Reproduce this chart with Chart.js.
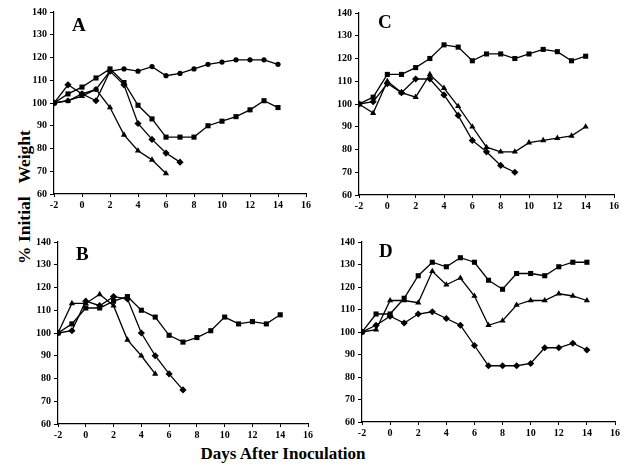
<!DOCTYPE html>
<html>
<head>
<meta charset="utf-8">
<script src="https://cdn.jsdelivr.net/npm/chart.js@4/dist/chart.umd.min.js"></script>
<style>
  html, body { margin: 0; padding: 0; background: #fff; }
  body { width: 627px; height: 467px; position: relative; overflow: hidden; }
  canvas { position: absolute; }
  .txt { position: absolute; font-family: 'Liberation Serif', 'Times New Roman', serif; font-weight: bold; color: #000; white-space: pre; line-height: 1; }
</style>
</head>
<body>
<div class="txt" id="ytitle" style="font-size:17.5px; width:220px; height:24px; line-height:24px; text-align:center; left:-86px; top:185px; transform:rotate(-90deg); transform-origin:center;">% Initial   Weight</div>
<div class="txt" style="font-size:17px; width:300px; text-align:center; left:133px; top:445px;">Days After Inoculation</div>
<script>
// ---- data ----
const days = [-2, -1, 0, 1, 2, 3, 4, 5, 6, 7, 8, 9, 10, 11, 12, 13, 14];
const xTicks = [-2, 0, 2, 4, 6, 8, 10, 12, 14, 16];
const yTicks = [60, 70, 80, 90, 100, 110, 120, 130, 140];
const panelLabels = ['A', 'B', 'C', 'D'];

// Panel A
const aSquare   = [100, 104, 107, 111, 115, 109, 99, 93, 85, 85, 85, 90, 92, 94, 97, 101, 98];
const aDiamond  = [100, 108, 104, 101, 114, 108, 91, 84, 78, 74];
const aTriangle = [100, 101, 103, 106, 98, 86, 79, 75, 69];
const aCircle   = [100, 101, 104, 106, 114, 115, 114, 116, 112, 113, 115, 117, 118, 119, 119, 119, 117];

// Panel B
const bSquare   = [100, 104, 111, 111, 114, 116, 110, 107, 99, 96, 98, 101, 107, 104, 105, 104, 108];
const bTriangle = [100, 113, 113, 117, 112, 97, 90, 82];
const bDiamond  = [100, 101, 114, 112, 116, 115, 100, 90, 82, 75];

// Panel C
const cSquare   = [100, 103, 113, 113, 116, 120, 126, 125, 119, 122, 122, 120, 122, 124, 123, 119, 121];
const cTriangle = [100, 96, 110, 105, 103, 113, 107, 99, 90, 81, 79, 79, 83, 84, 85, 86, 90];
const cDiamond  = [100, 101, 109, 105, 111, 111, 104, 95, 84, 79, 73, 70];

// Panel D
const dSquare   = [100, 108, 108, 115, 125, 131, 129, 133, 131, 123, 119, 126, 126, 125, 129, 131, 131];
const dTriangle = [100, 101, 114, 114, 113, 127, 121, 124, 116, 103, 105, 112, 114, 114, 117, 116, 114];
const dDiamond  = [100, 103, 107, 104, 108, 109, 106, 103, 94, 85, 85, 85, 86, 93, 93, 95, 92];

// ---- drawing ----
const FONT = "'Liberation Serif', 'Times New Roman', serif";
const YW = 44, XH = 24, PT = 10, PR = 14;

function pts(vals) { return vals.map((v, i) => ({ x: days[i], y: v })); }

const styles = {
  square:   { pointStyle: 'rect',     pointRadius: 3.6 },
  diamond:  { pointStyle: 'rectRot',  pointRadius: 3.6 },
  triangle: { pointStyle: 'triangle', pointRadius: 3.6 },
  circle:   { pointStyle: 'circle',   pointRadius: 2.6 }
};

function ds(vals, kind) {
  return Object.assign({
    data: pts(vals),
    borderColor: '#000',
    backgroundColor: '#000',
    pointBackgroundColor: '#000',
    pointBorderColor: '#000',
    borderWidth: 1.3,
    pointBorderWidth: 0,
    tension: 0,
    fill: false
  }, styles[kind]);
}

const letterPlugin = {
  id: 'letter',
  afterDraw(chart, args, opts) {
    const ctx = chart.ctx;
    const xa = chart.scales.x, ya = chart.scales.y;
    ctx.save();
    ctx.fillStyle = '#000';
    ctx.font = 'bold 19px ' + FONT;
    ctx.textBaseline = 'alphabetic';
    ctx.textAlign = 'left';
    ctx.fillText(opts.text, xa.left + opts.dx, ya.top + opts.dy);
    ctx.restore();
  }
};

function makePanel(rect, datasets, letter) {
  const cv = document.createElement('canvas');
  const w = (rect.r - rect.l) + YW + PR;
  const h = (rect.b - rect.t) + PT + XH;
  cv.width = w; cv.height = h;
  cv.style.left = (rect.l - YW) + 'px';
  cv.style.top = (rect.t - PT) + 'px';
  cv.style.width = w + 'px'; cv.style.height = h + 'px';
  document.body.appendChild(cv);
  new Chart(cv, {
    type: 'line',
    data: { datasets },
    plugins: [letterPlugin],
    options: {
      responsive: false,
      animation: false,
      devicePixelRatio: 1,
      layout: { padding: { top: PT, right: PR, left: 0, bottom: 0 } },
      plugins: {
        legend: { display: false },
        tooltip: { enabled: false },
        letter: { text: letter.text, dx: letter.dx, dy: letter.dy }
      },
      scales: {
        x: {
          type: 'linear', min: -2, max: 16,
          afterBuildTicks: (s) => { s.ticks = xTicks.map(v => ({ value: v })); },
          afterFit: (s) => { s.height = XH; s.paddingLeft = 0; s.paddingRight = 0; },
          border: { display: true, color: '#000', width: 1.2 },
          grid: { display: true, drawOnChartArea: false, drawTicks: true, tickLength: 3, color: '#000', lineWidth: 1 },
          ticks: { color: '#000', padding: 2, maxRotation: 0, autoSkip: false,
                   font: { family: FONT, weight: 'bold', size: 10 } }
        },
        y: {
          type: 'linear', min: 60, max: 140,
          afterBuildTicks: (s) => { s.ticks = yTicks.map(v => ({ value: v })); },
          afterFit: (s) => { s.width = YW; s.paddingTop = 0; s.paddingBottom = 0; },
          border: { display: true, color: '#000', width: 1.2 },
          grid: { display: true, drawOnChartArea: false, drawTicks: true, tickLength: 4, color: '#000', lineWidth: 1 },
          ticks: { color: '#000', padding: 3, autoSkip: false,
                   font: { family: FONT, weight: 'bold', size: 10 } }
        }
      }
    }
  });
}

makePanel({ l: 54, r: 306, t: 12, b: 194 },
  [ds(aCircle, 'circle'), ds(aSquare, 'square'), ds(aDiamond, 'diamond'), ds(aTriangle, 'triangle')],
  { text: panelLabels[0], dx: 18, dy: 19 });
makePanel({ l: 58, r: 308, t: 242, b: 424 },
  [ds(bSquare, 'square'), ds(bTriangle, 'triangle'), ds(bDiamond, 'diamond')],
  { text: panelLabels[1], dx: 18, dy: 18 });
makePanel({ l: 359, r: 614, t: 13, b: 195 },
  [ds(cSquare, 'square'), ds(cTriangle, 'triangle'), ds(cDiamond, 'diamond')],
  { text: panelLabels[2], dx: 19, dy: 15 });
makePanel({ l: 362, r: 615, t: 242, b: 422 },
  [ds(dSquare, 'square'), ds(dTriangle, 'triangle'), ds(dDiamond, 'diamond')],
  { text: panelLabels[3], dx: 17, dy: 15 });
</script>
</body>
</html>
